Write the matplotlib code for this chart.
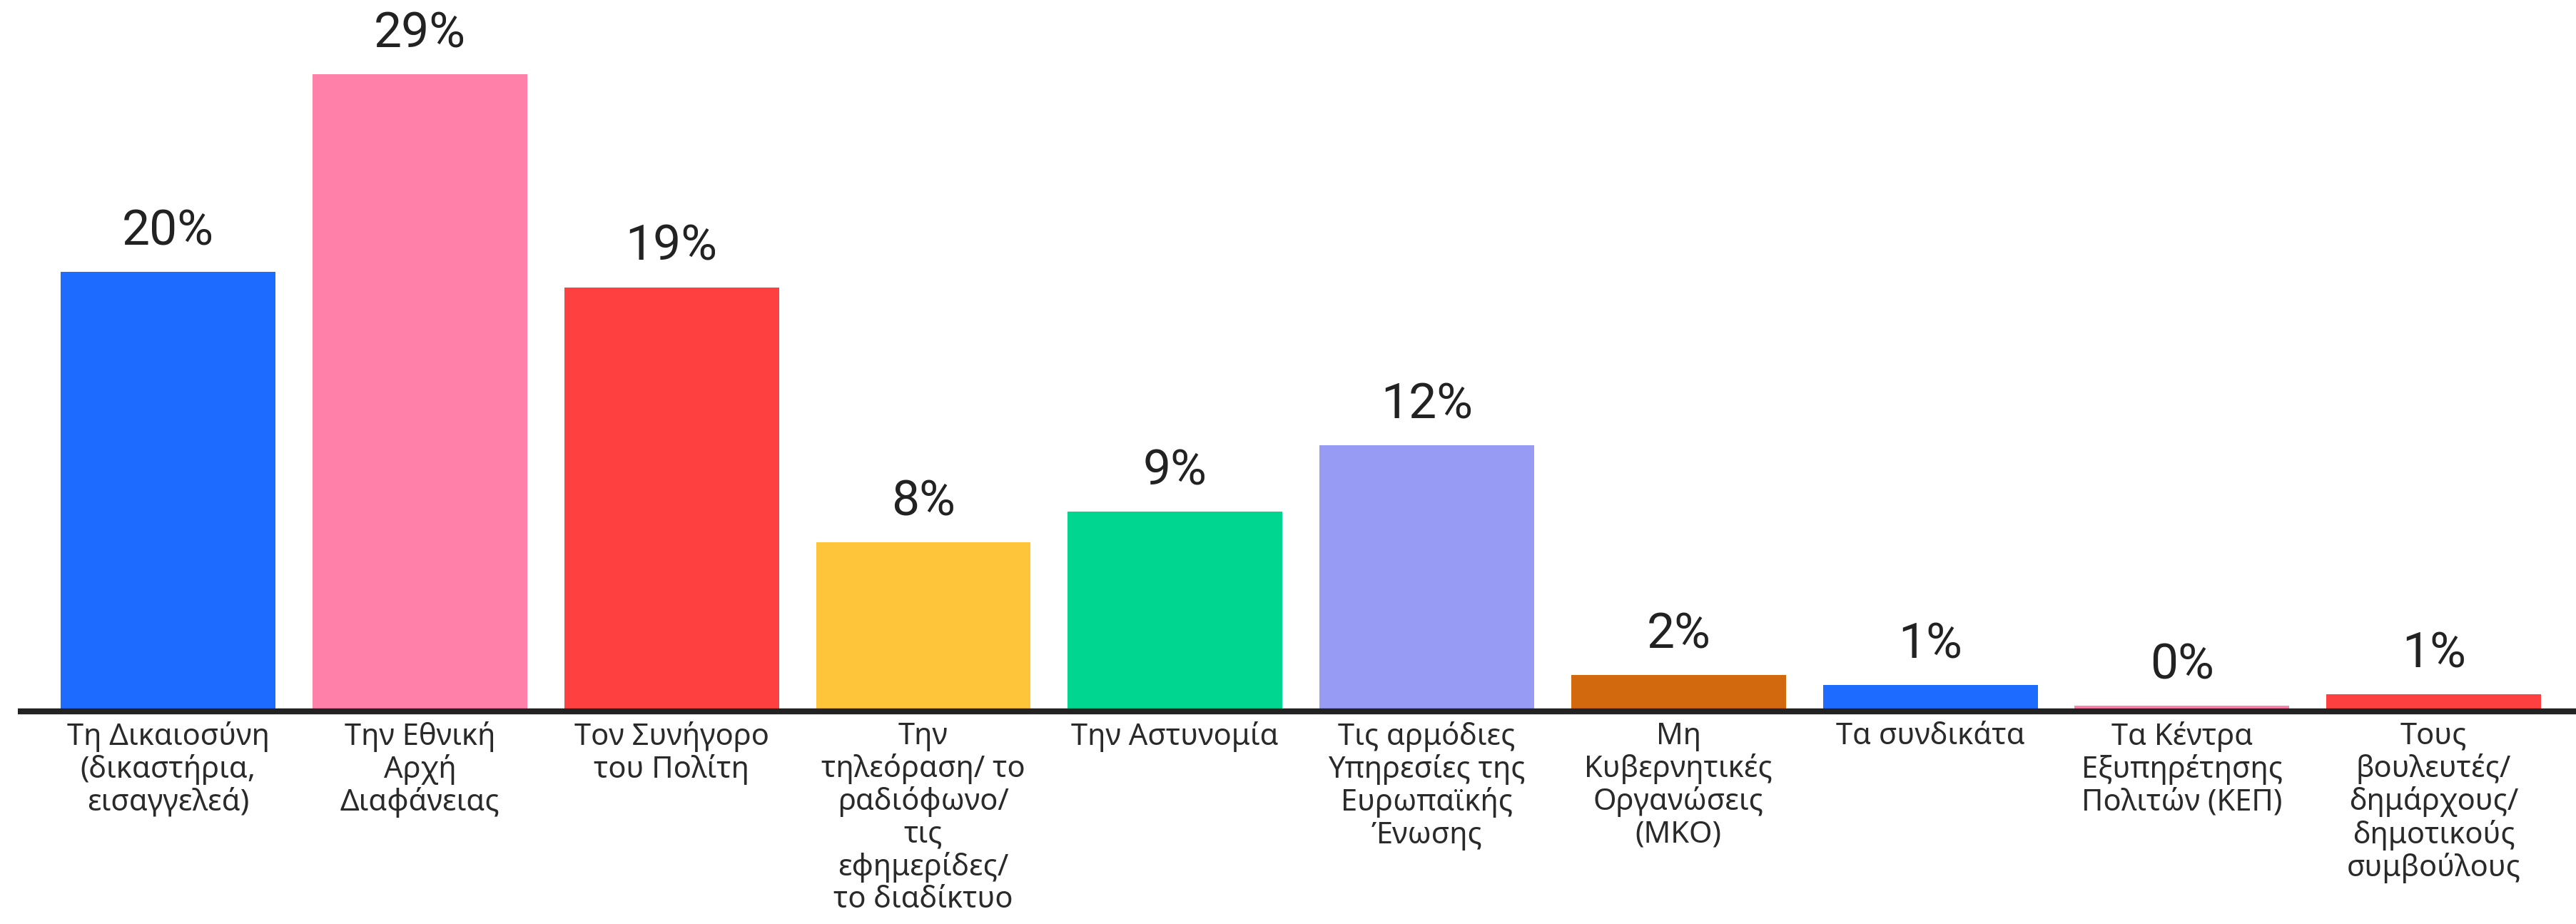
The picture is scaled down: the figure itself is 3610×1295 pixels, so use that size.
import matplotlib
matplotlib.use("Agg")
import matplotlib.pyplot as plt

# κατηγορίες και τιμές (%)
labels = [
    "Τη Δικαιοσύνη\n(δικαστήρια,\nεισαγγελεά)",
    "Την Εθνική\nΑρχή\nΔιαφάνειας",
    "Τον Συνήγορο\nτου Πολίτη",
    "Την\nτηλεόραση/ το\nραδιόφωνο/\nτις\nεφημερίδες/\nτο διαδίκτυο",
    "Την Αστυνομία",
    "Τις αρμόδιες\nΥπηρεσίες της\nΕυρωπαϊκής\nΈνωσης",
    "Μη\nΚυβερνητικές\nΟργανώσεις\n(ΜΚΟ)",
    "Τα συνδικάτα",
    "Τα Κέντρα\nΕξυπηρέτησης\nΠολιτών (ΚΕΠ)",
    "Τους\nβουλευτές/\nδημάρχους/\nδημοτικούς\nσυμβούλους",
]
values = [20.0, 29.0, 19.3, 7.7, 9.1, 12.1, 1.66, 1.2, 0.27, 0.78]
colors = ["#1E6BFF", "#FF80A8", "#FF4040", "#FFC53A", "#00D68F",
          "#979BF4", "#D2690F", "#1E6BFF", "#FF80A8", "#FF4040"]

fig = plt.figure(figsize=(36.1, 12.95), dpi=100)
ax = fig.add_axes([25 / 3610, 298 / 1295, 1 - 25 / 3610, 997 / 1295])

x = list(range(len(values)))
bars = ax.bar(x, values, width=0.853, color=colors, zorder=2)

for b, v in zip(bars, values):
    ax.annotate(f"{v:.0f}%", (b.get_x() + b.get_width() / 2, b.get_height()),
                xytext=(0, 17), textcoords="offset points",
                ha="center", va="bottom", fontsize=50,
                family="Roboto", color="#222222")

ax.set_xlim(-0.597, 9.565)
ax.set_ylim(0, 32.37)

ax.set_xticks(x)
ax.set_xticklabels(labels, fontsize=30, family="Noto Sans", color="#2a2a2a",
                   linespacing=1.1)
ax.tick_params(axis="x", length=0, pad=10)
ax.set_yticks([])

for s in ["top", "right", "left"]:
    ax.spines[s].set_visible(False)
ax.spines["bottom"].set_linewidth(6)
ax.spines["bottom"].set_color("#222222")
ax.spines["bottom"].set_capstyle("butt")
ax.patch.set_visible(False)

fig.savefig("out.png", dpi=100, facecolor="white")
